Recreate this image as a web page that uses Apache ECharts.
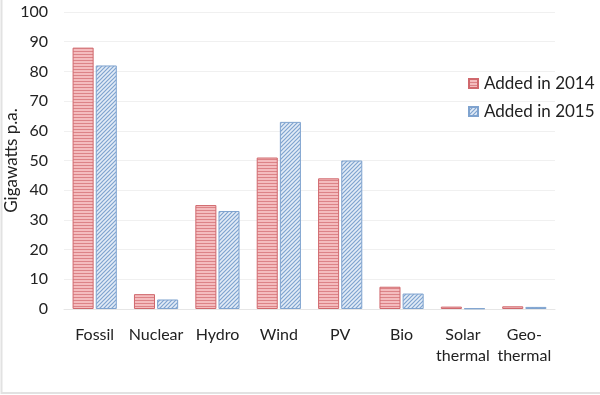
<!DOCTYPE html>
<html><head><meta charset="utf-8">
<script src="https://cdn.jsdelivr.net/npm/echarts@6/dist/echarts.min.js"></script>
<style>html,body{margin:0;padding:0;background:#fff}#c{width:600px;height:395px}</style>
</head><body><div id="c"></div>
<script>
const categories = ['Fossil','Nuclear','Hydro','Wind','PV','Bio','Solar\nthermal','Geo-\nthermal'];
const added2014 = [88, 5, 35, 51, 44, 7.5, 0.8, 0.9];
const added2015 = [82, 3.2, 33, 63, 50, 5.2, 0.2, 0.7];
const seriesNames = ['Added in 2014','Added in 2015'];

function hPattern(){
  const c=document.createElement('canvas');c.width=4;c.height=3;
  const g=c.getContext('2d');
  g.fillStyle='#f4bcbe';g.fillRect(0,0,4,3);
  g.fillStyle='#dc8387';g.fillRect(0,0,4,1);
  return c;
}
function dPattern(){
  const s=4;
  const c=document.createElement('canvas');c.width=s;c.height=s;
  const g=c.getContext('2d');
  g.fillStyle='#e3ecf7';g.fillRect(0,0,s,s);
  g.strokeStyle='#7fa3cf';g.lineWidth=1.2;
  g.beginPath();
  g.moveTo(-1,s+1);g.lineTo(s+1,-1);
  g.moveTo(-1,1);g.lineTo(1,-1);
  g.moveTo(s-1,s+1);g.lineTo(s+1,s-1);
  g.stroke();
  return c;
}
const chart = echarts.init(document.getElementById('c'));
const font = 'Lato, "Open Sans", sans-serif';
chart.setOption({
  animation:false,
  backgroundColor:'#fff',
  graphic:[{type:'rect',shape:{x:1.5,y:-5,width:610,height:398},style:{fill:'none',stroke:'#e2e2e2',lineWidth:2},silent:true}],
  grid:{left:64,right:45,top:12,bottom:86,containLabel:false,outerBoundsMode:'none'},
  legend:{
    orient:'vertical', left:463, top:70, itemWidth:9, itemHeight:9, itemGap:11, icon:'rect',
    textStyle:{fontFamily:font,fontSize:17,color:'#222',padding:[0,0,0,1]},
    data:seriesNames
  },
  xAxis:{
    type:'category', data:categories,
    axisLine:{lineStyle:{color:'#e6e6e6'}}, axisTick:{show:false},
    axisLabel:{fontFamily:font,fontSize:16,color:'#222',margin:15,lineHeight:21,interval:0}
  },
  yAxis:{
    type:'value', min:0, max:100, interval:10,
    name:'Gigawatts p.a.', nameLocation:'middle', nameGap:44, nameMoveOverlap:false,
    nameTextStyle:{fontFamily:font,fontSize:17,color:'#222'},
    axisLine:{show:false}, axisTick:{show:false},
    axisLabel:{fontFamily:font,fontSize:16,color:'#222',margin:16},
    splitLine:{lineStyle:{color:'#f0f0f0'}}
  },
  series:[
    {name:seriesNames[0],type:'bar',data:added2014,barCategoryGap:'28%',barGap:'10%',
     itemStyle:{color:{image:hPattern(),repeat:'repeat'},borderColor:'#d0686d',borderWidth:1}},
    {name:seriesNames[1],type:'bar',data:added2015,
     itemStyle:{color:{image:dPattern(),repeat:'repeat'},borderColor:'#7fa3cf',borderWidth:1}}
  ]
});
</script></body></html>
